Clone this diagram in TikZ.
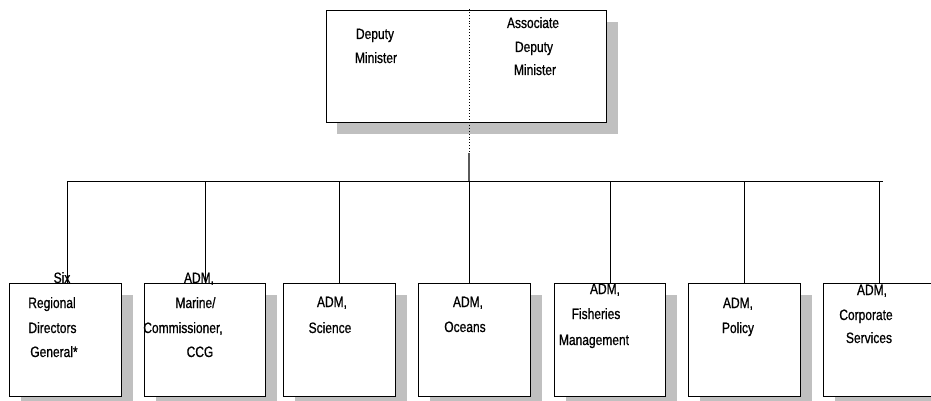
\documentclass[tikz,border=0pt]{standalone}
\usepackage{fontspec}
\setmainfont{Liberation Sans}[FakeStretch=0.8, FakeBold=0.8]
\usetikzlibrary{shadows}
\definecolor{shadowgray}{RGB}{192,192,192}
\definecolor{stemgray}{RGB}{90,90,90}
\tikzset{
  orgbox/.style={draw=black, line width=1.1pt, fill=white, rectangle, inner sep=0pt,
    anchor=north west, minimum height=113pt,
    drop shadow={shadow xshift=11pt, shadow yshift=-11pt, fill=shadowgray, opacity=1}},
  lbl/.style={anchor=base, inner sep=0pt, font=\fontsize{15}{18}\selectfont},
  wire/.style={draw=black, line width=0.9pt},
  dotwire/.style={draw=black, line width=0.9pt, dotted},
  stemwire/.style={draw=stemgray, line width=1.2pt}
}
\begin{document}
\begin{tikzpicture}[x=1pt, y=-1pt]
\useasboundingbox (0,0) rectangle (931,401);
\clip (0,0) rectangle (931,401);
% top box
\node[orgbox, minimum width=280pt, minimum height=112pt,
  drop shadow={shadow xshift=10pt, shadow yshift=-11pt, fill=shadowgray, opacity=1}] (dm) at (326,10) {};
\node[lbl] (dmA) at (375,39) {Deputy};
\node[lbl] (dmB) at (376,63) {Minister};
\node[lbl] (adA) at (533,28) {Associate};
\node[lbl] (adB) at (534,52) {Deputy};
\node[lbl] (adC) at (535,75) {Minister};
% bottom boxes
\node[orgbox, minimum width=112pt] (b1) at (9,283) {};
\node[orgbox, minimum width=121pt] (b2) at (144,283) {};
\node[orgbox, minimum width=112pt] (b3) at (283,283) {};
\node[orgbox, minimum width=112pt] (b4) at (418,283) {};
\node[orgbox, minimum width=111pt] (b5) at (554,283) {};
\node[orgbox, minimum width=112pt] (b6) at (688,283) {};
\node[orgbox, minimum width=112pt] (b7) at (823,283) {};
% coordinates
\coordinate (divtop) at (469,9);
\coordinate (divmid) at (469,153);
\coordinate (hub) at (469,181);
\coordinate (busL) at (67,181);
\coordinate (busR) at (883,181);
\coordinate (j1) at (67,181);
\coordinate (j2) at (205,181);
\coordinate (j3) at (339,181);
\coordinate (j4) at (469,181);
\coordinate (j5) at (610,181);
\coordinate (j6) at (744,181);
\coordinate (j7) at (879,181);
% connectors
\draw[dotwire] (divtop) -- (divmid);
\draw[stemwire] (divmid) -- (hub);
\draw[wire] (busL) -- (busR);
\foreach \i in {1,...,7} {\draw[wire] (j\i) -- (j\i |- b\i.north);}
% labels
\node[lbl] (t1a) at (62,283) {Six};
\node[lbl] (t1b) at (52,308) {Regional};
\node[lbl] (t1c) at (52.5,333) {Directors};
\node[lbl] (t1d) at (54,357) {General*};
\node[lbl] (t2a) at (199,283) {ADM,};
\node[lbl] (t2b) at (195.5,308) {Marine/};
\node[lbl] (t2c) at (183,333) {Commissioner,};
\node[lbl] (t2d) at (200,357) {CCG};
\node[lbl] (t3a) at (332,307) {ADM,};
\node[lbl] (t3b) at (330,333) {Science};
\node[lbl] (t4a) at (468,307) {ADM,};
\node[lbl] (t4b) at (465,332) {Oceans};
\node[lbl] (t5a) at (605,294) {ADM,};
\node[lbl] (t5b) at (596,319) {Fisheries};
\node[lbl] (t5c) at (594,345) {Management};
\node[lbl] (t6a) at (738,308) {ADM,};
\node[lbl] (t6b) at (738,333) {Policy};
\node[lbl] (t7a) at (872,295) {ADM,};
\node[lbl] (t7b) at (866,320) {Corporate};
\node[lbl] (t7c) at (869,343) {Services};
\end{tikzpicture}
\end{document}
